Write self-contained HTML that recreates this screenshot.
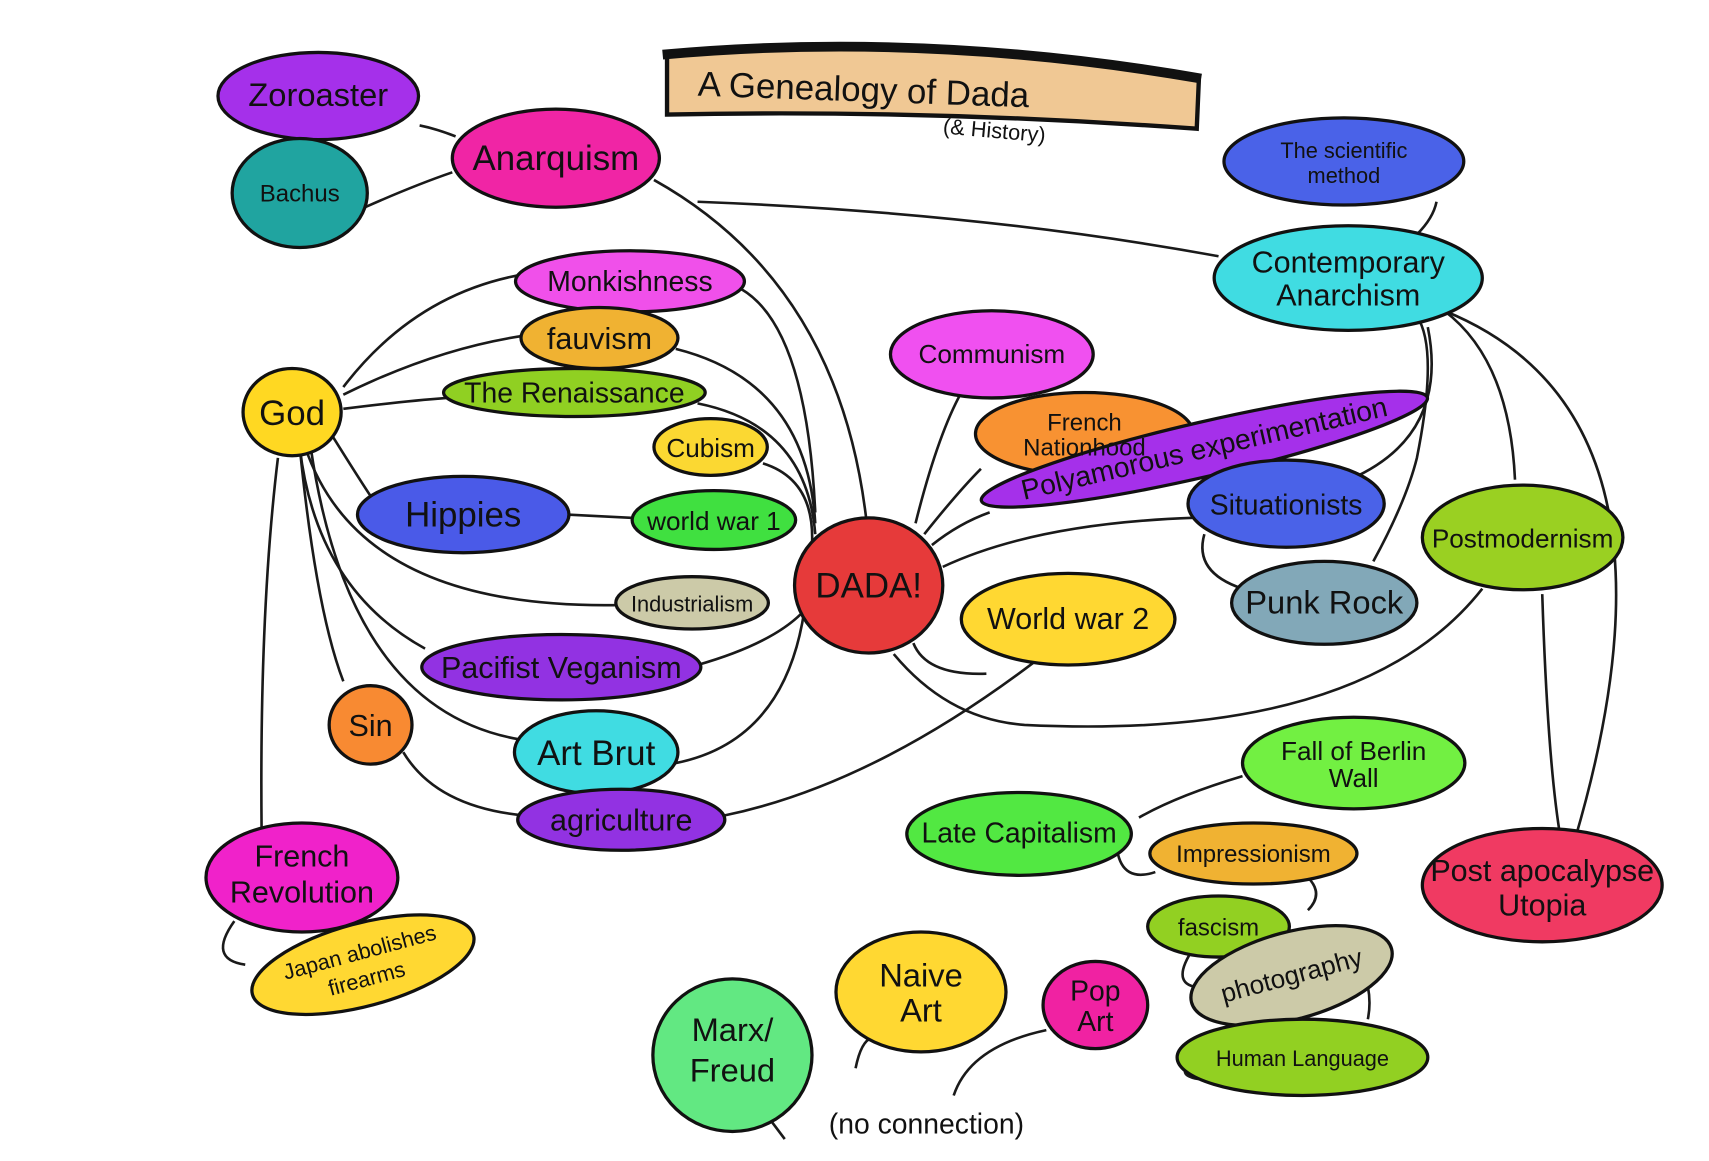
<!DOCTYPE html>
<html><head><meta charset="utf-8"><style>html,body{margin:0;padding:0;background:#fff}svg{display:block}</style></head>
<body>
<svg width="1709" height="1161" viewBox="0 0 1568 1065" xmlns="http://www.w3.org/2000/svg" font-family="Liberation Sans, sans-serif">
<rect width="1568" height="1065" fill="#fff"/>
<!-- title -->
<path d="M612 50 Q850 30 1100 72 L1098 118 Q850 100 612 105 Z" fill="#f0c894" stroke="#111" stroke-width="4"/>
<path d="M608 50 Q850 28 1102 72" fill="none" stroke="#111" stroke-width="9"/>
<text x="640" y="95" font-size="32" fill="#111" transform="rotate(2 850 90)">A Genealogy of Dada</text>
<text x="865" y="128" font-size="20" fill="#111" transform="rotate(5 930 122)">(&amp; History)</text>

<g fill="none" stroke="#1a1a1a" stroke-width="2.4">
<path d="M385 115 Q400 118 418 125"/>
<path d="M335 190 Q380 170 415 158"/>
<path d="M600 165 Q770 260 795 478"/>
<path d="M640 185 Q900 195 1118 235"/>
<path d="M1300 215 Q1315 200 1318 185"/>
<path d="M315 355 Q380 270 478 252"/>
<path d="M315 362 Q400 320 480 308"/>
<path d="M315 375 Q370 368 410 365"/>
<path d="M305 400 Q330 440 340 455"/>
<path d="M520 472 Q560 474 598 476"/>
<path d="M280 410 Q330 560 570 555"/>
<path d="M275 410 Q290 540 390 595"/>
<path d="M275 410 Q290 560 315 625"/>
<path d="M285 410 Q320 650 475 678"/>
<path d="M240 760 Q238 560 255 420"/>
<path d="M370 690 Q400 740 480 748"/>
<path d="M680 265 Q740 300 748 470"/>
<path d="M620 320 Q740 350 748 480"/>
<path d="M640 370 Q740 390 748 490"/>
<path d="M700 425 Q748 440 745 500"/>
<path d="M640 610 Q710 590 738 560"/>
<path d="M620 700 Q720 680 738 560"/>
<path d="M665 748 Q800 720 948 608"/>
<path d="M840 480 Q860 400 882 360"/>
<path d="M848 490 Q880 450 900 430"/>
<path d="M855 500 Q880 480 908 470"/>
<path d="M865 520 Q950 480 1095 475"/>
<path d="M838 590 Q850 620 905 618"/>
<path d="M820 600 Q870 660 940 665 Q1250 680 1360 540"/>
<path d="M1105 490 Q1095 525 1140 540"/>
<path d="M1260 515 Q1290 460 1300 420 Q1320 320 1300 290"/>
<path d="M1238 440 Q1330 400 1310 300"/>
<path d="M1325 285 Q1385 330 1390 440"/>
<path d="M1325 285 Q1560 380 1445 770"/>
<path d="M1415 545 Q1420 700 1432 770"/>
<path d="M1140 712 Q1080 730 1045 750"/>
<path d="M1025 780 Q1030 810 1060 800"/>
<path d="M1200 805 Q1215 820 1200 835"/>
<path d="M1095 870 Q1075 900 1095 905"/>
<path d="M1255 905 Q1258 920 1255 935"/>
<path d="M1110 965 Q1070 985 1100 990"/>
<path d="M215 845 Q190 880 225 885"/>
<path d="M785 980 Q790 955 800 952"/>
<path d="M875 1005 Q890 960 960 945"/>
<path d="M720 1045 L705 1025"/>
</g>
<g stroke="#111" stroke-width="3">
<ellipse cx="292" cy="88" rx="92" ry="40" fill="#a530ea"/>
<ellipse cx="275" cy="177" rx="62" ry="50" fill="#20a4a0"/>
<ellipse cx="510" cy="145" rx="95" ry="45" fill="#f025a5"/>
<ellipse cx="1233" cy="148" rx="110" ry="40" fill="#4a62e8"/>
<ellipse cx="1237" cy="255" rx="123" ry="48" fill="#40dce2"/>
<ellipse cx="578" cy="258" rx="105" ry="28" fill="#f050ea"/>
<ellipse cx="550" cy="310" rx="72" ry="28" fill="#f0b232"/>
<ellipse cx="527" cy="360" rx="120" ry="22" fill="#90d022"/>
<ellipse cx="652" cy="410" rx="52" ry="26" fill="#fbd832"/>
<ellipse cx="268" cy="378" rx="45" ry="40" fill="#ffd822"/>
<ellipse cx="425" cy="472" rx="97" ry="35" fill="#4a5ae8"/>
<ellipse cx="655" cy="477" rx="75" ry="27" fill="#40e040"/>
<ellipse cx="635" cy="553" rx="70" ry="24" fill="#cccaa8"/>
<ellipse cx="797" cy="537" rx="68" ry="62" fill="#e63a3a"/>
<ellipse cx="910" cy="325" rx="93" ry="40" fill="#f050f0"/>
<ellipse cx="995" cy="398" rx="100" ry="38" fill="#f89232"/>
<ellipse cx="1105" cy="412" rx="210" ry="25" fill="#a530ea" transform="rotate(-13 1105 412)"/>
<ellipse cx="1180" cy="462" rx="90" ry="40" fill="#4a62e8"/>
<ellipse cx="1215" cy="553" rx="85" ry="38" fill="#82a8b8"/>
<ellipse cx="1397" cy="493" rx="92" ry="48" fill="#9ad022"/>
<ellipse cx="980" cy="568" rx="98" ry="42" fill="#ffd832"/>
<ellipse cx="515" cy="612" rx="128" ry="30" fill="#9232e2"/>
<ellipse cx="340" cy="665" rx="38" ry="36" fill="#f88a32"/>
<ellipse cx="547" cy="690" rx="75" ry="38" fill="#40dce2"/>
<ellipse cx="570" cy="752" rx="95" ry="28" fill="#9232e2"/>
<ellipse cx="1242" cy="700" rx="102" ry="42" fill="#72f042"/>
<ellipse cx="935" cy="765" rx="103" ry="38" fill="#52e842"/>
<ellipse cx="1150" cy="783" rx="95" ry="28" fill="#f0b232"/>
<ellipse cx="277" cy="805" rx="88" ry="50" fill="#f022ca"/>
<ellipse cx="1415" cy="812" rx="110" ry="52" fill="#f03a62"/>
<ellipse cx="1118" cy="850" rx="65" ry="28" fill="#92d022"/>
<ellipse cx="1185" cy="895" rx="95" ry="40" fill="#cccaa8" transform="rotate(-15 1185 895)"/>
<ellipse cx="333" cy="885" rx="105" ry="38" fill="#ffd832" transform="rotate(-15 333 885)"/>
<ellipse cx="845" cy="910" rx="78" ry="55" fill="#ffd832"/>
<ellipse cx="1005" cy="922" rx="48" ry="40" fill="#f022a2"/>
<ellipse cx="672" cy="968" rx="73" ry="70" fill="#62e882"/>
<ellipse cx="1195" cy="970" rx="115" ry="35" fill="#92d022"/>
</g>
<g fill="#111" font-size="26" text-anchor="middle">
<text x="292" y="97" font-size="30">Zoroaster</text>
<text x="275" y="185" font-size="22">Bachus</text>
<text x="510" y="156" font-size="32">Anarquism</text>
<text x="1233" y="145" font-size="20">The scientific</text>
<text x="1233" y="168" font-size="20">method</text>
<text x="1237" y="250" font-size="28">Contemporary</text>
<text x="1237" y="280" font-size="28">Anarchism</text>
<text x="578" y="267" font-size="26">Monkishness</text>
<text x="550" y="320" font-size="28">fauvism</text>
<text x="527" y="369" font-size="26">The Renaissance</text>
<text x="652" y="419" font-size="24">Cubism</text>
<text x="268" y="390" font-size="32">God</text>
<text x="425" y="483" font-size="32">Hippies</text>
<text x="655" y="486" font-size="24">world war 1</text>
<text x="635" y="561" font-size="20">Industrialism</text>
<text x="797" y="548" font-size="32">DADA!</text>
<text x="910" y="333" font-size="24">Communism</text>
<text x="995" y="395" font-size="22">French</text>
<text x="995" y="418" font-size="22">Nationhood</text>
<text x="1105" y="420" font-size="26" transform="rotate(-13 1105 412)">Polyamorous experimentation</text>
<text x="1180" y="472" font-size="26">Situationists</text>
<text x="1215" y="563" font-size="30">Punk Rock</text>
<text x="1397" y="502" font-size="24">Postmodernism</text>
<text x="980" y="577" font-size="28">World war 2</text>
<text x="515" y="622" font-size="28">Pacifist Veganism</text>
<text x="340" y="675" font-size="28">Sin</text>
<text x="547" y="702" font-size="32">Art Brut</text>
<text x="570" y="762" font-size="28">agriculture</text>
<text x="1242" y="697" font-size="24">Fall of Berlin</text>
<text x="1242" y="722" font-size="24">Wall</text>
<text x="935" y="773" font-size="26">Late Capitalism</text>
<text x="1150" y="791" font-size="22">Impressionism</text>
<text x="277" y="795" font-size="28">French</text>
<text x="277" y="828" font-size="28">Revolution</text>
<text x="1415" y="808" font-size="28">Post apocalypse</text>
<text x="1415" y="840" font-size="28">Utopia</text>
<text x="1118" y="858" font-size="22">fascism</text>
<text x="1185" y="903" font-size="24" transform="rotate(-15 1185 895)">photography</text>
<text x="333" y="880" font-size="20" transform="rotate(-15 333 885)">Japan abolishes</text>
<text x="333" y="905" font-size="20" transform="rotate(-15 333 885)">firearms</text>
<text x="845" y="905" font-size="30">Naive</text>
<text x="845" y="937" font-size="30">Art</text>
<text x="1005" y="918" font-size="26">Pop</text>
<text x="1005" y="946" font-size="26">Art</text>
<text x="672" y="955" font-size="30">Marx/</text>
<text x="672" y="992" font-size="30">Freud</text>
<text x="1195" y="978" font-size="20">Human Language</text>
<text x="850" y="1040" font-size="26">(no connection)</text>
</g>
</svg>
</body></html>
